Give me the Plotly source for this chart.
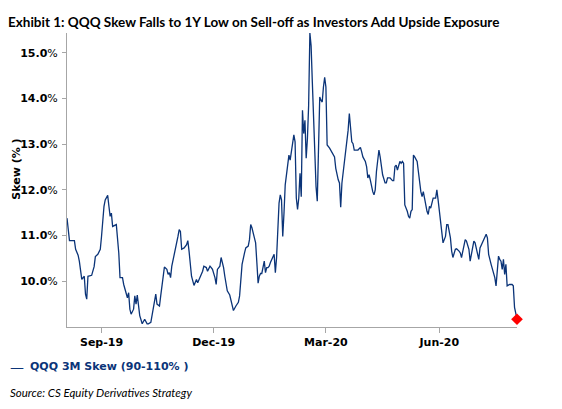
import plotly.graph_objects as go

# QQQ 3M skew (90-110%)
dates = [
    # Aug-19
    "2019-08-04", "2019-08-05", "2019-08-06", "2019-08-10", "2019-08-11", "2019-08-13", "2019-08-14",
    "2019-08-16", "2019-08-18", "2019-08-19", "2019-08-20", "2019-08-21", "2019-08-24", "2019-08-26",
    "2019-08-27", "2019-08-29", "2019-08-31",
    # Sep-19
    "2019-09-01", "2019-09-02", "2019-09-03", "2019-09-04", "2019-09-05", "2019-09-06", "2019-09-07",
    "2019-09-08", "2019-09-09", "2019-09-10", "2019-09-13", "2019-09-14", "2019-09-15", "2019-09-16",
    "2019-09-18", "2019-09-19", "2019-09-21", "2019-09-22", "2019-09-23", "2019-09-24", "2019-09-25",
    "2019-09-27", "2019-09-28", "2019-09-29", "2019-09-30",
    # Oct-19
    "2019-10-01", "2019-10-02", "2019-10-04", "2019-10-05", "2019-10-06", "2019-10-08", "2019-10-09",
    "2019-10-11", "2019-10-12", "2019-10-14", "2019-10-15", "2019-10-16", "2019-10-18", "2019-10-19",
    "2019-10-21", "2019-10-22", "2019-10-24", "2019-10-25", "2019-10-26", "2019-10-27", "2019-10-28",
    "2019-10-30",
    # Nov-19
    "2019-11-01", "2019-11-02", "2019-11-03", "2019-11-04", "2019-11-05", "2019-11-07", "2019-11-09",
    "2019-11-10", "2019-11-11", "2019-11-12", "2019-11-13", "2019-11-15", "2019-11-17", "2019-11-18",
    "2019-11-20", "2019-11-22", "2019-11-23", "2019-11-25", "2019-11-26", "2019-11-28", "2019-11-29",
    "2019-11-30",
    # Dec-19
    "2019-12-02", "2019-12-03", "2019-12-04", "2019-12-06", "2019-12-07", "2019-12-09", "2019-12-10",
    "2019-12-12", "2019-12-14", "2019-12-15", "2019-12-17", "2019-12-19", "2019-12-21", "2019-12-22",
    "2019-12-23", "2019-12-24", "2019-12-26", "2019-12-27", "2019-12-29", "2019-12-30", "2019-12-31",
    # Jan-20
    "2020-01-01", "2020-01-03", "2020-01-04", "2020-01-05", "2020-01-06", "2020-01-07", "2020-01-08",
    "2020-01-09", "2020-01-10", "2020-01-11", "2020-01-12", "2020-01-13", "2020-01-14", "2020-01-15",
    "2020-01-16", "2020-01-18", "2020-01-19", "2020-01-20", "2020-01-21", "2020-01-23", "2020-01-24",
    "2020-01-25", "2020-01-26", "2020-01-27", "2020-01-28", "2020-01-30", "2020-01-31",
    # Feb-20
    "2020-02-01", "2020-02-02", "2020-02-03", "2020-02-04", "2020-02-05", "2020-02-06", "2020-02-07",
    "2020-02-08", "2020-02-09", "2020-02-10", "2020-02-11", "2020-02-12", "2020-02-13", "2020-02-14",
    "2020-02-15", "2020-02-16", "2020-02-17", "2020-02-18", "2020-02-19", "2020-02-21", "2020-02-22",
    "2020-02-23", "2020-02-24", "2020-02-25", "2020-02-26", "2020-02-27", "2020-02-28", "2020-02-29",
    # Mar-20
    "2020-03-01", "2020-03-02", "2020-03-04", "2020-03-06", "2020-03-08", "2020-03-09", "2020-03-10",
    "2020-03-11", "2020-03-12", "2020-03-13", "2020-03-14", "2020-03-15", "2020-03-16", "2020-03-17",
    "2020-03-18", "2020-03-19", "2020-03-20", "2020-03-21", "2020-03-22", "2020-03-23", "2020-03-24",
    "2020-03-27", "2020-03-29", "2020-03-30", "2020-03-31",
    # Apr-20
    "2020-04-02", "2020-04-03", "2020-04-04", "2020-04-05", "2020-04-06", "2020-04-07", "2020-04-08",
    "2020-04-09", "2020-04-10", "2020-04-11", "2020-04-13", "2020-04-14", "2020-04-15", "2020-04-16",
    "2020-04-18", "2020-04-19", "2020-04-20", "2020-04-22", "2020-04-24", "2020-04-25", "2020-04-26",
    "2020-04-27", "2020-04-28", "2020-04-29", "2020-04-30",
    # May-20
    "2020-05-01", "2020-05-02", "2020-05-03", "2020-05-04", "2020-05-06", "2020-05-07", "2020-05-08",
    "2020-05-09", "2020-05-10", "2020-05-11", "2020-05-12", "2020-05-14", "2020-05-15", "2020-05-16",
    "2020-05-17", "2020-05-18", "2020-05-19", "2020-05-20", "2020-05-21", "2020-05-22", "2020-05-23",
    "2020-05-24", "2020-05-25", "2020-05-26", "2020-05-27", "2020-05-29", "2020-05-30", "2020-05-31",
    # Jun-20
    "2020-06-02", "2020-06-03", "2020-06-04", "2020-06-06", "2020-06-07", "2020-06-08", "2020-06-10",
    "2020-06-11", "2020-06-12", "2020-06-14", "2020-06-15", "2020-06-17", "2020-06-18", "2020-06-19",
    "2020-06-21", "2020-06-22", "2020-06-23", "2020-06-25", "2020-06-26", "2020-06-27", "2020-06-29",
    "2020-06-30",
    # Jul-20
    "2020-07-01", "2020-07-03", "2020-07-04", "2020-07-06", "2020-07-07", "2020-07-08", "2020-07-09",
    "2020-07-10", "2020-07-11", "2020-07-13", "2020-07-14", "2020-07-16", "2020-07-17", "2020-07-18",
    "2020-07-19", "2020-07-20", "2020-07-21", "2020-07-22", "2020-07-23", "2020-07-24", "2020-07-25",
    "2020-07-26", "2020-07-28", "2020-07-30", "2020-07-31",
    # Aug-20
    "2020-08-01", "2020-08-02", "2020-08-03",
]

skew = [
    # Aug-19
    11.38, 11.06, 10.89, 10.89, 10.70, 10.57, 10.44, 10.04, 10.11, 9.72, 9.61, 10.11, 10.13, 10.32,
    10.54, 10.59, 10.70,
    # Sep-19
    10.98, 11.33, 11.64, 11.78, 11.85, 11.88, 11.64, 11.42, 11.49, 11.20, 11.24, 10.91, 10.62, 10.08,
    10.08, 9.93, 9.72, 9.64, 9.75, 9.39, 9.28, 9.39, 9.68, 9.50, 9.70,
    # Oct-19
    9.50, 9.25, 9.07, 9.14, 9.17, 9.07, 9.07, 9.10, 9.25, 9.54, 9.72, 9.50, 9.46, 9.68,
    10.15, 10.31, 10.26, 10.15, 10.19, 10.08, 10.33, 10.59,
    # Nov-19
    10.77, 10.98, 11.13, 11.09, 10.70, 10.73, 10.80, 10.89, 10.66, 10.30, 10.11, 9.91, 10.04, 9.97,
    10.08, 10.22, 10.33, 10.30, 10.22, 10.33, 10.30, 10.26,
    # Dec-19
    10.08, 9.93, 10.26, 10.33, 10.52, 10.30, 10.11, 9.79, 9.70, 9.57, 9.36, 9.46, 9.54, 9.68,
    10.04, 10.37, 10.62, 10.73, 10.77, 10.91, 11.24,
    # Jan-20
    11.17, 10.95, 10.84, 10.41, 9.96, 10.11, 10.17, 10.17, 10.32, 10.44, 10.19, 10.30, 10.30, 10.33,
    10.41, 10.52, 10.59, 10.19, 10.52, 11.71, 11.89, 11.78, 10.98, 11.49, 12.11, 12.54, 12.76,
    # Feb-20
    12.65, 12.83, 12.98, 13.20, 13.05, 11.82, 11.57, 11.82, 12.36, 11.85, 13.74, 13.23, 13.52, 12.69,
    13.12, 13.85, 15.43, 15.15, 14.35, 12.69, 12.07, 11.75, 13.27, 14.03, 13.96, 13.92, 14.25, 14.46,
    # Mar-20
    14.25, 12.98, 12.91, 12.80, 12.72, 12.47, 12.29, 12.22, 12.15, 11.62, 12.15, 12.40, 12.51, 12.76,
    13.01, 13.30, 13.67, 13.30, 13.05, 13.01, 12.87, 12.87, 12.93, 12.83, 12.72,
    # Apr-20
    12.62, 12.51, 12.26, 12.33, 12.22, 12.04, 11.96, 11.89, 12.00, 12.40, 12.87, 12.72, 12.51, 12.33,
    12.15, 12.15, 12.26, 12.26, 12.20, 12.20, 12.51, 12.54, 12.43, 12.51, 12.62,
    # May-20
    12.58, 12.62, 12.58, 11.67, 11.53, 11.42, 11.38, 11.53, 11.57, 12.76, 12.72, 12.62, 12.40, 12.11,
    11.96, 11.85, 11.96, 11.82, 11.64, 11.53, 11.46, 11.64, 11.60, 11.75, 11.82, 11.82, 12.00, 11.78,
    # Jun-20
    11.28, 11.06, 10.84, 10.98, 11.24, 11.24, 10.95, 10.66, 10.52, 10.70, 10.71, 10.66, 10.62, 10.52,
    10.77, 10.91, 10.88, 10.70, 10.44, 10.59, 10.88, 10.84,
    # Jul-20
    10.73, 10.48, 10.73, 10.84, 10.91, 10.98, 11.03, 10.95, 10.59, 10.37, 10.26, 10.08, 9.90, 10.26,
    10.55, 10.48, 10.44, 10.26, 10.48, 10.15, 10.37, 9.90, 9.93, 9.93, 9.90,
    # Aug-20
    9.43, 9.28, 9.17,
]

y_ticks = [10, 11, 12, 13, 14, 15]
y_tick_labels = ["<b>%.1f</b>%%" % v for v in y_ticks]

title_text = "Exhibit 1: QQQ Skew Falls to 1Y Low on Sell-off as Investors Add Upside Exposure"
series_name = "QQQ 3M Skew (90-110% )"
y_title = "Skew (% )"
source_text = "Source: CS Equity Derivatives Strategy"

navy = "#0b3478"
grey = "#a6a6a6"
sans = "DejaVu Sans"
head = "Lato, Open Sans, sans-serif"

# the page body adds an 8px offset, so the figure is 8px smaller than the window
W, H = 554, 401

fig = go.Figure()

fig.add_trace(go.Scatter(x=dates, y=skew,
                         mode='lines',
                         name=series_name,
                         line=dict(color=navy, width=1.3),
                         showlegend=False))

# last point highlighted
fig.add_trace(go.Scatter(x=dates[-1:], y=skew[-1:],
                         mode='markers',
                         marker=dict(symbol='diamond', size=9, color='#ff0000'),
                         cliponaxis=False,
                         showlegend=False))

fig.update_xaxes(type='date', automargin=False,
                 range=["2019-08-04", "2020-08-03"],
                 tick0="2019-09-01", dtick="M3", tickformat="%b-%y",
                 ticks='outside', ticklen=5, tickcolor=grey,
                 showline=True, linecolor=grey, linewidth=1,
                 showgrid=False, zeroline=False,
                 tickfont=dict(family=sans, size=11, color='black', weight='bold'))

fig.update_yaxes(range=[9.0, 15.43], automargin=False,
                 tickvals=y_ticks, ticktext=y_tick_labels,
                 ticks='outside', ticklen=4, tickcolor=grey, ticklabelstandoff=2,
                 showline=True, linecolor=grey, linewidth=1,
                 showgrid=False, zeroline=False,
                 tickfont=dict(family=sans, size=11, color='black'))

fig.update_layout(
    width=W, height=H,
    margin=dict(l=59, r=45, t=25, b=82, autoexpand=False),
    paper_bgcolor='white', plot_bgcolor='white',
    title=dict(text=title_text, x=0, xanchor='left', xref='container',
               y=1 - 14 / H, yanchor='middle', yref='container', automargin=False,
               font=dict(family=head, size=13.5, color='black', weight='bold')),
    annotations=[
        dict(text=y_title, xref='paper', yref='paper', x=-0.111, y=0.535,
             xanchor='center', yanchor='middle',
             textangle=-90, showarrow=False,
             font=dict(family=sans, size=11, color='black', weight='bold')),
        dict(text="—", xref='paper', yref='paper', x=-0.131, y=-0.136,
             xanchor='left', yanchor='middle', showarrow=False,
             font=dict(family=sans, size=14, color=navy)),
        dict(text=series_name, xref='paper', yref='paper', x=-0.086, y=-0.136,
             xanchor='left', yanchor='middle', showarrow=False,
             font=dict(family=sans, size=11, color=navy, weight='bold')),
        dict(text=source_text, xref='paper', yref='paper', x=-0.131, y=-0.224,
             xanchor='left', yanchor='middle', showarrow=False,
             font=dict(family=head, size=11.5, color='black', style='italic')),
    ],
)

fig.write_html("out.html")
